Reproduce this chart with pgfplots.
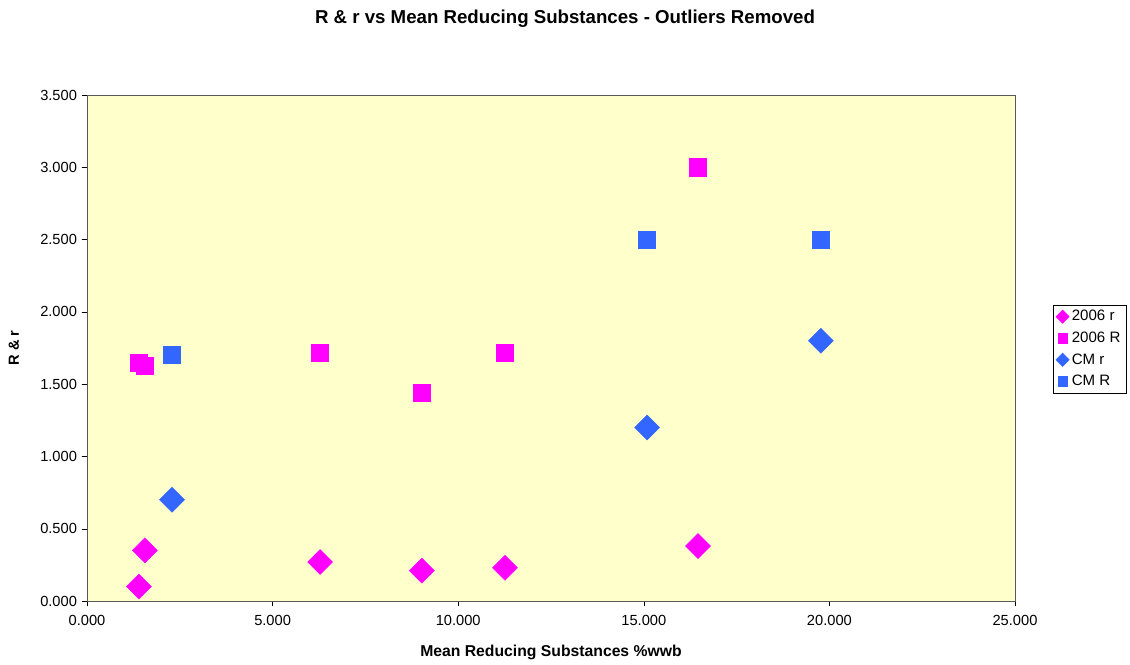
\documentclass[border=0pt]{standalone}
\usepackage{pgfplots}
\pgfplotsset{compat=1.18}
\usepackage{fontspec}
\setmainfont{Liberation Sans}
\definecolor{mag}{HTML}{FF00FF}
\definecolor{blu}{HTML}{3366FF}
\definecolor{bg}{HTML}{FFFFCC}
\begin{document}
\begin{tikzpicture}[x=1pt,y=1pt]
\fill[white] (0,0) rectangle (847.5,497.25);
\node[font=\fontsize{14}{16}\selectfont\bfseries] at (423.75,483) {R \& r vs Mean Reducing Substances - Outliers Removed};
\begin{axis}[
  at={(65.25pt,46.5pt)}, anchor=south west,
  scale only axis, width=696pt, height=379.5pt,
  xmin=0, xmax=25, ymin=0, ymax=3.5,
  xtick={0,5,...,25}, ytick={0,0.5,...,3.5},
  axis background/.style={fill=bg},
  axis line style={gray!70!black},
  tick style={black}, tick align=outside,
  xtick pos=bottom, ytick pos=left,
  major tick length=4pt,
  ticklabel style={font=\fontsize{11}{13}\selectfont},
  xticklabel style={yshift=-3pt},
  /pgf/number format/.cd, fixed, fixed zerofill, precision=3, 1000 sep={}, assume math mode=true,
  /pgfplots/.cd,
  xlabel={Mean Reducing Substances \%wwb},
  ylabel={R \& r},
  xlabel style={font=\fontsize{11.8}{13}\selectfont\bfseries, yshift=-8pt},
  ylabel style={font=\fontsize{11}{13}\selectfont\bfseries, yshift=9pt},
  legend style={at={(1.041,0.498)}, anchor=west, draw=black, font=\fontsize{11.3}{13}\selectfont, inner sep=2pt, row sep=2.8pt, legend cell align=left},
  legend image post style={mark size=3.5pt},
]
\addplot[only marks, mark=square*, mark options={rotate=45, fill=mag, draw=mag}, mark size=6.6pt] coordinates {
(1.40,0.10) (1.56,0.35) (6.28,0.27) (9.02,0.21) (11.26,0.23) (16.46,0.38)};
\addlegendentry{2006 r}
\addplot[only marks, mark=square*, mark options={fill=mag, draw=mag}, mark size=6.4pt] coordinates {
(1.40,1.65) (1.56,1.63) (6.28,1.72) (9.02,1.44) (11.26,1.72) (16.46,3.00)};
\addlegendentry{2006 R}
\addplot[only marks, mark=square*, mark options={rotate=45, fill=blu, draw=blu}, mark size=6.6pt] coordinates {
(2.29,0.70) (15.09,1.20) (19.77,1.80)};
\addlegendentry{CM r}
\addplot[only marks, mark=square*, mark options={fill=blu, draw=blu}, mark size=6.4pt] coordinates {
(2.29,1.70) (15.09,2.50) (19.77,2.50)};
\addlegendentry{CM R}
\end{axis}
\end{tikzpicture}
\end{document}
